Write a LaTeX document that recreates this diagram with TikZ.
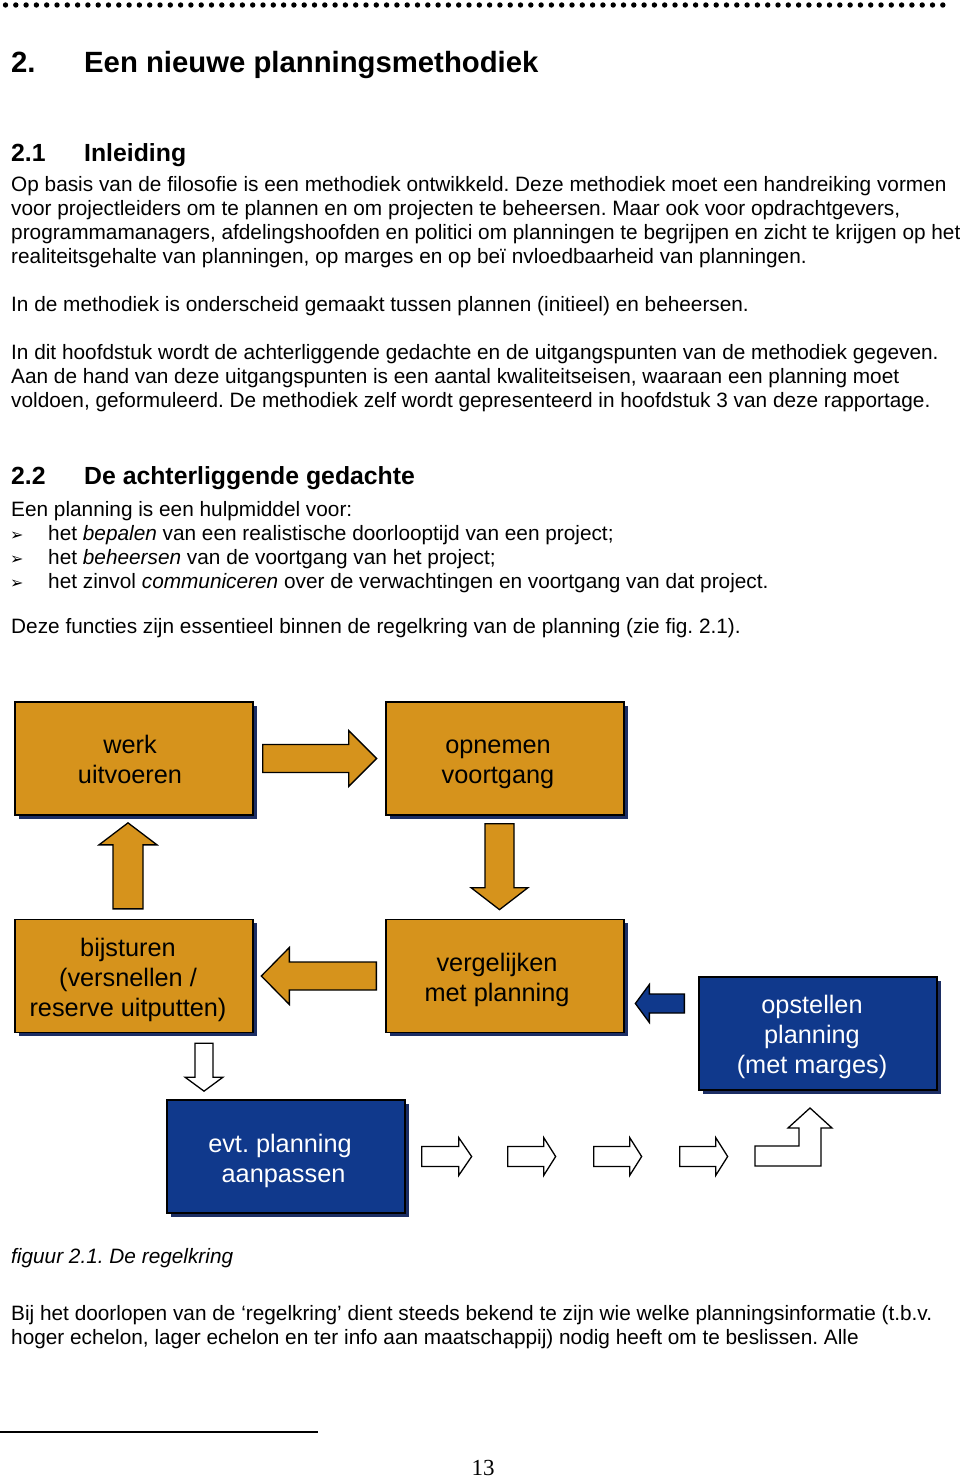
\documentclass[tikz,border=0pt]{standalone}
\usepackage{fontspec}
\setmainfont{Liberation Sans}
\newfontfamily\pnfont{Liberation Serif}
\newfontfamily\symfont{DejaVu Sans}
\usetikzlibrary{shadows,calc}
\frenchspacing

\definecolor{gold}{RGB}{214,147,28}
\definecolor{navyfill}{RGB}{16,57,140}
\definecolor{shadowc}{RGB}{28,46,100}

\tikzset{
  body/.style={anchor=base west, inner sep=0pt, font=\fontsize{20.8}{24}\selectfont},
  hone/.style={anchor=base west, inner sep=0pt, font=\fontsize{29.3}{34}\selectfont\bfseries},
  htwo/.style={anchor=base west, inner sep=0pt, font=\fontsize{24.8}{30}\selectfont\bfseries},
  bul/.style={anchor=base west, inner sep=0pt, font=\symfont\fontsize{16}{18}\selectfont},
  boxbase/.style={draw=black, line width=1.3pt, minimum width=238pt, minimum height=113pt,
    inner sep=0pt,
    drop shadow={shadow xshift=3.5pt, shadow yshift=-3.5pt, fill=shadowc, opacity=1}},
  goldbox/.style={boxbase, fill=gold},
  bluebox/.style={boxbase, fill=navyfill},
  boxtext/.style={align=center, inner sep=0pt, font=\fontsize{25.3}{30}\selectfont},
  darktext/.style={boxtext, text=black},
  lighttext/.style={boxtext, text=white},
  goldarrow/.style={draw=black, fill=gold, line width=1.3pt, line join=miter},
  bluearrow/.style={draw=black, fill=navyfill, line width=1.3pt, line join=miter},
  whitearrow/.style={draw=black, fill=white, line width=1.3pt, line join=miter},
  pics/barrow/.style n args={5}{code={
    \path[#5] (0,-#2) -- ({#1-#4},-#2) -- ({#1-#4},-#3) -- (#1,0) -- ({#1-#4},#3) -- ({#1-#4},#2) -- (0,#2) -- cycle;
  }}
}

\begin{document}
\begin{tikzpicture}[x=1pt,y=-1pt]
\useasboundingbox[fill=white] (0,0) rectangle (960,1480);

% dotted top rule
\foreach \i in {0,...,91} \fill (5.5+\i*10.3,5) circle (2.7);

% headings and text
\node[hone] (h1n) at (11,72) {2.};
\node[hone] (h1t) at (84,72) {Een nieuwe planningsmethodiek};
\node[htwo] (h21n) at (11,161) {2.1};
\node[htwo] (h21t) at (84,161) {Inleiding};

\node[body] (p1) at (11,191) {Op basis van de filosofie is een methodiek ontwikkeld. Deze methodiek moet een handreiking vormen};
\node[body] (p2) at (11,215) {voor projectleiders om te plannen en om projecten te beheersen. Maar ook voor opdrachtgevers,};
\node[body] (p3) at (11,239) {programmamanagers, afdelingshoofden en politici om planningen te begrijpen en zicht te krijgen op het};
\node[body] (p4) at (11,263) {realiteitsgehalte van planningen, op marges en op beï nvloedbaarheid van planningen.};
\node[body] (p5) at (11,311) {In de methodiek is onderscheid gemaakt tussen plannen (initieel) en beheersen.};
\node[body] (p6) at (11,359) {In dit hoofdstuk wordt de achterliggende gedachte en de uitgangspunten van de methodiek gegeven.};
\node[body] (p7) at (11,383) {Aan de hand van deze uitgangspunten is een aantal kwaliteitseisen, waaraan een planning moet};
\node[body] (p8) at (11,407) {voldoen, geformuleerd. De methodiek zelf wordt gepresenteerd in hoofdstuk 3 van deze rapportage.};

\node[htwo] (h22n) at (11,484) {2.2};
\node[htwo] (h22t) at (84,484) {De achterliggende gedachte};

\node[body] (q1) at (11,516) {Een planning is een hulpmiddel voor:};
\node[bul] (b1) at (10,540) {➢};
\node[bul] (b2) at (10,564) {➢};
\node[bul] (b3) at (10,588) {➢};
\node[body] (q2) at (48,540) {het \textit{bepalen} van een realistische doorlooptijd van een project;};
\node[body] (q3) at (48,564) {het \textit{beheersen} van de voortgang van het project;};
\node[body] (q4) at (48,588) {het zinvol \textit{communiceren} over de verwachtingen en voortgang van dat project.};
\node[body] (q5) at (11,633) {Deze functies zijn essentieel binnen de regelkring van de planning (zie fig. 2.1).};

% boxes
\node[goldbox] (werk) at (134,758.5) {};
\node[goldbox] (opnemen) at (505,758.5) {};
\node[goldbox] (bijsturen) at (134,976) {};
\node[goldbox] (vergelijken) at (505,976) {};
\node[bluebox] (opstellen) at (818,1033.5) {};
\node[bluebox] (evt) at (286,1156.5) {};

\node[darktext] (twerk) at ($(werk.center)+(-4,4)$) {\strut werk\\\strut uitvoeren};
\node[darktext] (topnemen) at ($(opnemen.center)+(-7,4)$) {\strut opnemen\\\strut voortgang};
\node[darktext] (tbijsturen) at ($(bijsturen.center)+(-6,4)$) {\strut bijsturen\\\strut (versnellen /\\\strut reserve uitputten)};
\node[darktext] (tvergelijken) at ($(vergelijken.center)+(-8,4.5)$) {\strut vergelijken\\\strut met planning};
\node[lighttext] (topstellen) at ($(opstellen.center)+(-6,4)$) {\strut opstellen\\\strut planning\\\strut (met marges)};
\node[lighttext] (tevt) at ($(evt.center)+(-6,4.5)$) {\strut evt. planning\\\strut\ aanpassen};

% block arrows
\pic at ($(werk.east)+(9,0)$) {barrow={114}{14}{28}{28}{goldarrow}};
\pic[rotate=90] at ($(bijsturen.north)+(-6,-10)$) {barrow={86}{15}{29}{22}{goldarrow}};
\pic[rotate=-90] at ($(opnemen.south)+(-5.5,8)$) {barrow={86}{14.5}{28.5}{22}{goldarrow}};
\pic[rotate=180] at ($(vergelijken.west)+(-9,0)$) {barrow={115}{14}{28.5}{28}{goldarrow}};
\pic[rotate=180] at ($(opstellen.west)+(-14,-30)$) {barrow={49}{9.5}{19}{14}{bluearrow}};
\pic[rotate=-90] at ($(bijsturen.south)+(70,10)$) {barrow={48}{9}{19}{14}{whitearrow}};

\coordinate (w1) at ($(evt.east)+(16,0)$);
\pic at (w1) {barrow={50}{10}{19}{13}{whitearrow}};
\pic at ($(w1)+(86,0)$) {barrow={48}{10}{19}{12}{whitearrow}};
\pic at ($(w1)+(172,0)$) {barrow={48}{10}{19}{12}{whitearrow}};
\pic at ($(w1)+(258,0)$) {barrow={48}{10}{19}{12}{whitearrow}};
\path[whitearrow] (755,1166) -- (755,1146) -- (799,1146) -- (799,1128) -- (788,1128)
  -- (810,1108) -- (832,1128) -- (821,1128) -- (821,1166) -- cycle;

% caption and following text
\node[body] (cap) at (11,1263) {\textit{figuur 2.1. De regelkring}};
\node[body] (r1) at (11,1320) {Bij het doorlopen van de ‘regelkring’ dient steeds bekend te zijn wie welke planningsinformatie (t.b.v.};
\node[body] (r2) at (11,1344) {hoger echelon, lager echelon en ter info aan maatschappij) nodig heeft om te beslissen. Alle};

% footnote rule and page number
\coordinate (fl) at (0,1432);
\coordinate (fr) at (318,1432);
\draw[line width=1.5pt] (fl) -- (fr);
\node[anchor=base, inner sep=0pt, font=\pnfont\fontsize{23}{26}\selectfont] (pn) at (483,1475) {13};
\end{tikzpicture}
\end{document}
